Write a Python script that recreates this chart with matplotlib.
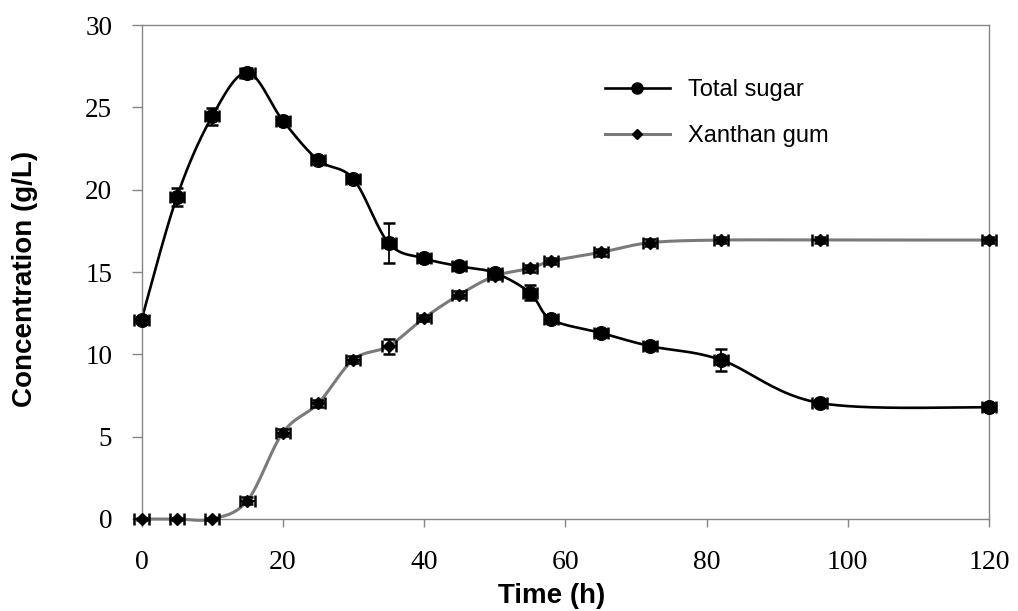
import numpy as np
import matplotlib
matplotlib.use("Agg")
import matplotlib.pyplot as plt
from matplotlib.lines import Line2D

# ---- data ----
time_h = [0, 5, 10, 15, 20, 25, 30, 35, 40, 45, 50, 55, 58, 65, 72, 82, 96, 120]
total_sugar = [12.1, 19.55, 24.45, 27.1, 24.2, 21.8, 20.65, 16.75, 15.83, 15.35,
               14.95, 13.74, 12.12, 11.31, 10.5, 9.67, 7.05, 6.78]
total_sugar_err = [0.15, 0.55, 0.5, 0.3, 0.2, 0.15, 0.15, 1.23, 0.2, 0.2,
                   0.2, 0.45, 0.15, 0.2, 0.2, 0.68, 0.15, 0.1]
xanthan_gum = [0, 0, 0, 1.12, 5.24, 7.02, 9.68, 10.5, 12.2, 13.62,
               14.75, 15.22, 15.66, 16.19, 16.78, 16.94, 16.94, 16.94]
xanthan_gum_err = [0.05, 0.05, 0.05, 0.2, 0.2, 0.2, 0.2, 0.45, 0.2, 0.2,
                   0.2, 0.2, 0.2, 0.2, 0.2, 0.2, 0.2, 0.2]
time_err = [1.0] * len(time_h)

x_ticks = [0, 20, 40, 60, 80, 100, 120]
y_ticks = [0, 5, 10, 15, 20, 25, 30]
series_labels = ["Total sugar", "Xanthan gum"]


def smooth_path(x, y, n=40):
    """Excel-style smoothed line (Bezier through the points)."""
    P = np.column_stack([np.asarray(x, float), np.asarray(y, float)])
    E = np.vstack([P[0], P, P[-1]])
    t = np.linspace(0, 1, n)[:, None]
    segs = []
    for i in range(len(P) - 1):
        p0, p1, p2, p3 = E[i], E[i + 1], E[i + 2], E[i + 3]
        b1 = p1 + (p2 - p0) / 6.0
        b2 = p2 - (p3 - p1) / 6.0
        seg = ((1 - t) ** 3) * p1 + 3 * (1 - t) ** 2 * t * b1 + 3 * (1 - t) * t ** 2 * b2 + t ** 3 * p2
        segs.append(seg if i == 0 else seg[1:])
    arr = np.vstack(segs)
    return arr[:, 0], arr[:, 1]


W, H = 1018, 611
fig = plt.figure(figsize=(W / 100, H / 100), dpi=100)
left, right, top, bottom = 141.5, 989, 25, 519
ax = fig.add_axes([left / W, 1 - bottom / H, (right - left) / W, (bottom - top) / H])

gray_axis = "#868686"
line_gray = "#7a7a7a"

# Total sugar
sx, sy = smooth_path(time_h, total_sugar)
ax.plot(sx, sy, color="black", lw=1.9, zorder=2, clip_on=False)
eb = ax.errorbar(time_h, total_sugar, yerr=total_sugar_err, xerr=time_err, fmt="none",
                 ecolor="black", elinewidth=1.3, capsize=4.5, capthick=1.8, zorder=2.5)
for a in list(eb.lines[1]) + list(eb.lines[2]):
    a.set_clip_on(False)
ax.plot(time_h, total_sugar, linestyle="none", marker="o", ms=9.8, mfc="black",
        mec="black", zorder=3, clip_on=False)

# Xanthan gum
xx, xy = smooth_path(time_h, xanthan_gum)
ax.plot(xx, xy, color=line_gray, lw=2.2, zorder=4, clip_on=False)
eb2 = ax.errorbar(time_h, xanthan_gum, yerr=xanthan_gum_err, xerr=time_err, fmt="none",
                  ecolor="black", elinewidth=1.3, capsize=4.0, capthick=1.8, zorder=4.5)
for a in list(eb2.lines[1]) + list(eb2.lines[2]):
    a.set_clip_on(False)
ax.plot(time_h, xanthan_gum, linestyle="none", marker="D", ms=6.2, mfc="black",
        mec="black", zorder=5, clip_on=False)

ax.set_xlim(0, 120)
ax.set_ylim(0, 30)
ax.set_xticks(x_ticks)
ax.set_yticks(y_ticks)
ax.set_xticklabels([str(v) for v in x_ticks])
ax.set_yticklabels([str(v) for v in y_ticks])

for s in ax.spines.values():
    s.set_color(gray_axis)
    s.set_linewidth(1.0)

ax.tick_params(axis="x", direction="out", length=6, width=1.0, color=gray_axis,
               pad=16.5, labelsize=20)
ax.tick_params(axis="y", direction="out", length=7, width=1.0, color=gray_axis,
               pad=14, labelsize=19.5)
for lab in ax.get_xticklabels() + ax.get_yticklabels():
    lab.set_fontfamily("Liberation Serif")
    lab.set_color("black")

fig.text(552 / W, 1 - 596 / H, "Time (h)", ha="center", va="center",
         fontsize=20, fontweight="bold", family="Liberation Sans")
fig.text(25 / W, 1 - 278.5 / H, "Concentration (g/L)", ha="center", va="center",
         rotation=90, fontsize=20, fontweight="bold", family="Liberation Sans")

handles = [
    Line2D([], [], color="black", lw=1.9, marker="o", ms=8, mfc="black", mec="black"),
    Line2D([], [], color=line_gray, lw=2.2, marker="D", ms=5, mfc="black", mec="black"),
]
ax.legend(handles, series_labels, loc="center left",
          bbox_to_anchor=(605 / W, 1 - 113 / H), bbox_transform=fig.transFigure,
          frameon=False, borderpad=0, borderaxespad=0, handlelength=2.75,
          handletextpad=0.76, labelspacing=1.0,
          prop={"family": "Liberation Sans", "size": 17})

fig.savefig("out.png", dpi=100)
